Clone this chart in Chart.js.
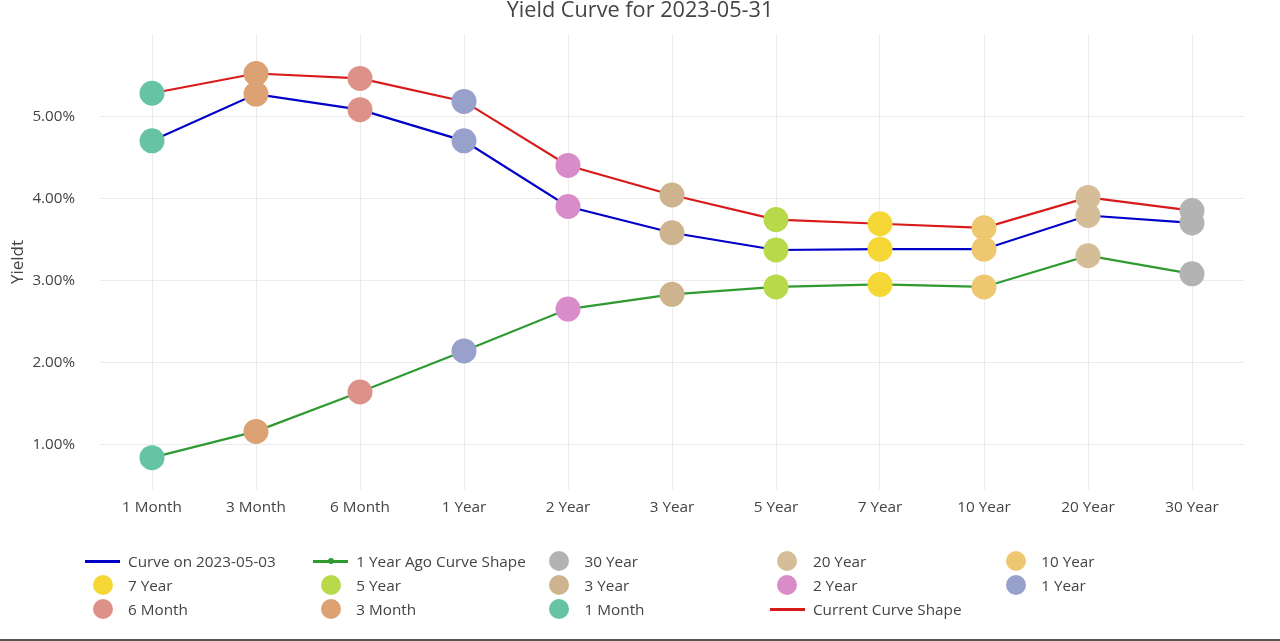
<!DOCTYPE html>
<html lang="en">
<head>
<meta charset="utf-8">
<title>Yield Curve</title>
<script src="https://cdn.jsdelivr.net/npm/chart.js"></script>
<style>
  body { margin: 0; background: #fff; font-family: 'Open Sans', sans-serif; }
  #wrap { position: relative; width: 1280px; height: 641px; overflow: hidden; }
  #legend .item { position: absolute; height: 24px; display: flex; align-items: center;
                  font-size: 15.3px; color: #444; white-space: nowrap; }
  #legend .sym { position: relative; width: 35px; height: 24px; margin-right: 8px; }
  #legend .ln { position: absolute; left: 0; top: 11px; width: 35px; height: 2.5px; }
  #legend .dot { position: absolute; left: 14.5px; top: 9px; width: 6px; height: 6px; border-radius: 50%; }
  #legend .circ { position: absolute; left: 7.5px; top: 2px; width: 20px; height: 20px; border-radius: 50%; }
  #bottomline { position: absolute; left: 0; bottom: 0; width: 1280px; height: 2px; background: #555; }
</style>
</head>
<body>
<div id="wrap">
  <canvas id="yieldChart" width="1280" height="641"></canvas>
  <div id="legend"></div>
  <div id="bottomline"></div>
</div>

<script>
// data
const maturities = ['1 Month', '3 Month', '6 Month', '1 Year', '2 Year', '3 Year', '5 Year', '7 Year', '10 Year', '20 Year', '30 Year'];
const currentYields = [5.28, 5.52, 5.46, 5.18, 4.40, 4.04, 3.74, 3.69, 3.64, 4.01, 3.85];
const monthAgoYields = [4.70, 5.27, 5.08, 4.70, 3.90, 3.58, 3.37, 3.38, 3.38, 3.79, 3.70];
const yearAgoYields = [0.84, 1.16, 1.64, 2.14, 2.65, 2.83, 2.92, 2.95, 2.92, 3.30, 3.08];
const yTicks = [1, 2, 3, 4, 5];

// one colour per maturity marker
const markerColors = ['#66c3a3', '#dda273', '#dc9288', '#98a0cc', '#d88cc8', '#cdb48e',
                      '#b8d94a', '#f5d835', '#eec870', '#d5bd98', '#b3b3b3'];

Chart.defaults.font.family = "'Open Sans', sans-serif";
Chart.defaults.color = '#444';

const datasets = [];

datasets.push({
    label: 'Curve on 2023-05-03',
    data: monthAgoYields,
    borderColor: '#0000c8',
    borderWidth: 2.2,
    pointRadius: 0,
    tension: 0,
    order: 2
});
datasets.push({
    label: '1 Year Ago Curve Shape',
    data: yearAgoYields,
    borderColor: '#2e9a30',
    backgroundColor: '#2e9a30',
    borderWidth: 2.2,
    pointRadius: 3,
    pointBorderWidth: 0,
    tension: 0,
    order: 2,
    withDot: true
});

// markers, one dataset per maturity (legend goes 30 Year -> 1 Month)
for (let i = maturities.length - 1; i >= 0; i--) {
    const m = maturities[i];
    datasets.push({
        label: m,
        data: [
            {x: m, y: currentYields[i]},
            {x: m, y: monthAgoYields[i]},
            {x: m, y: yearAgoYields[i]}
        ],
        showLine: false,
        pointRadius: 12.5,
        pointBorderWidth: 0,
        backgroundColor: markerColors[i],
        borderColor: markerColors[i],
        order: 0,
        isMarker: true
    });
}

datasets.push({
    label: 'Current Curve Shape',
    data: currentYields,
    borderColor: '#d91a1a',
    borderWidth: 2.2,
    pointRadius: 0,
    tension: 0,
    order: 1
});

const ctx = document.getElementById('yieldChart').getContext('2d');
const chart = new Chart(ctx, {
    type: 'line',
    data: { labels: maturities, datasets: datasets },
    options: {
        responsive: false,
        animation: false,
        layout: { padding: 0 },
        plugins: {
            legend: { display: false },
            tooltip: { enabled: false },
            title: {
                display: true,
                text: 'Yield Curve for 2023-05-31',
                color: '#444',
                font: { size: 21.7, weight: 'normal', lineHeight: 0.8 },
                padding: { top: 0, bottom: 14.6 }
            }
        },
        scales: {
            x: {
                type: 'category',
                offset: true,
                grid: { color: '#ebebeb', drawTicks: false },
                border: { display: false },
                ticks: { color: '#444', font: { size: 15.3 }, padding: 8, maxRotation: 0, autoSkip: false },
                afterFit(s) { s.height = 151; }
            },
            y: {
                min: 0.446,
                max: 6.0,
                grid: { color: '#ebebeb', drawTicks: false },
                border: { display: false },
                ticks: { color: '#444', font: { size: 15.2 }, padding: 25,
                         callback: v => v.toFixed(2) + '%' },
                afterBuildTicks(s) { s.ticks = yTicks.map(v => ({ value: v })); },
                afterFit(s) { s.width = 100; },
                title: { display: true, text: 'Yieldt', color: '#444', font: { size: 17 },
                         padding: { top: 8, bottom: 0 } }
            },
            // empty right axis, only keeps the right margin so the title stays centred
            yRight: {
                position: 'right',
                grid: { display: false },
                border: { display: false },
                ticks: { display: false },
                afterFit(s) { s.width = 36; }
            }
        }
    }
});

// legend laid out as a 5 column grid like the original
const legend = document.getElementById('legend');
chart.data.datasets.forEach((ds, k) => {
    const col = k % 5, row = Math.floor(k / 5);
    const item = document.createElement('div');
    item.className = 'item';
    item.style.left = (85 + col * 228.3) + 'px';
    item.style.top = (549 + row * 24) + 'px';
    const sym = document.createElement('div');
    sym.className = 'sym';
    if (ds.isMarker) {
        sym.innerHTML = '<div class="circ" style="background:' + ds.backgroundColor + '"></div>';
    } else {
        sym.innerHTML = '<div class="ln" style="background:' + ds.borderColor + '"></div>' +
            (ds.withDot ? '<div class="dot" style="background:' + ds.borderColor + '"></div>' : '');
    }
    const txt = document.createElement('span');
    txt.textContent = ds.label;
    item.appendChild(sym);
    item.appendChild(txt);
    legend.appendChild(item);
});
</script>
</body>
</html>
